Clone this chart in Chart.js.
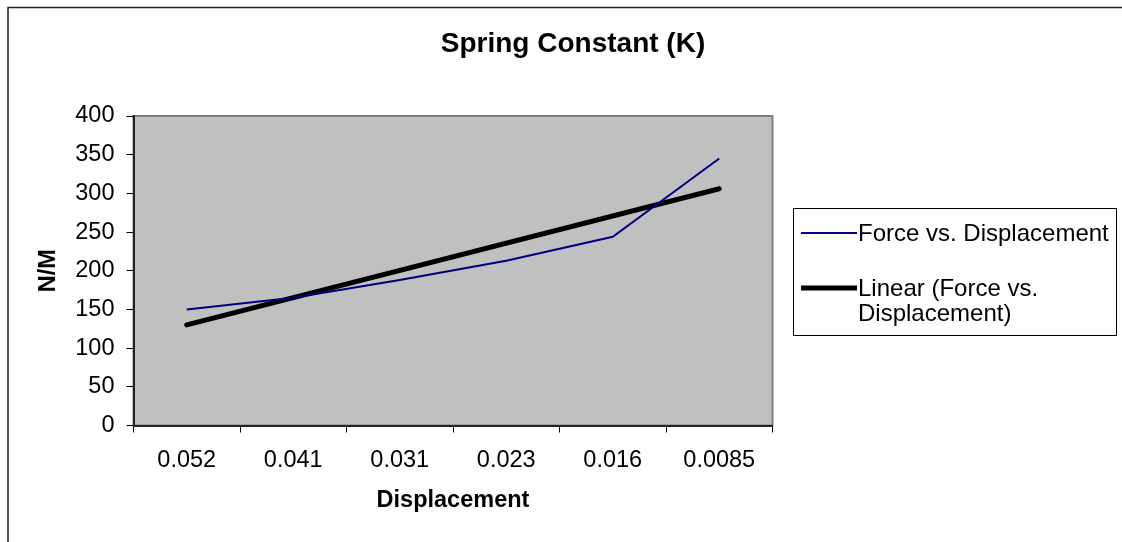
<!DOCTYPE html>
<html>
<head>
<meta charset="utf-8">
<title>Spring Constant (K)</title>
<script src="https://cdn.jsdelivr.net/npm/chart.js@4.4.1/dist/chart.umd.min.js"></script>
<style>
    html, body { margin: 0; padding: 0; background: #fff; }
    canvas { display: block; }
</style>
</head>
<body>
<canvas id="springChart" width="1122" height="542"></canvas>
<script>
// chart values
const displacementLabels = ['0.052', '0.041', '0.031', '0.023', '0.016', '0.0085'];
const forceValues = [150, 165, 188, 213, 244, 345];
// linear trendline, only the two ends are needed (spanGaps joins them)
const trendValues = [130, null, null, null, null, 306];
const yTickValues = [0, 50, 100, 150, 200, 250, 300, 350, 400];

const chartTitle = 'Spring Constant (K)';
const xAxisTitle = 'Displacement';
const yAxisTitle = 'N/M';
const legendLines = [
    ['Force vs. Displacement'],
    ['Linear (Force vs.', 'Displacement)']
];

const FONT = '"Liberation Sans", Arial, sans-serif';

// white page, outer frame and grey plot area
const backgroundPlugin = {
    id: 'excelBackground',
    beforeDraw(chart) {
        const ctx = chart.ctx;
        const area = chart.chartArea;
        ctx.save();
        ctx.fillStyle = '#fff';
        ctx.fillRect(0, 0, chart.width, chart.height);

        ctx.strokeStyle = '#222';
        ctx.lineWidth = 1.5;
        ctx.strokeRect(8, 7.5, chart.width + 20, chart.height + 20);

        ctx.fillStyle = '#c0c0c0';
        ctx.fillRect(area.left, area.top, area.right - area.left, area.bottom - area.top);
        ctx.strokeStyle = '#808080';
        ctx.lineWidth = 2;
        ctx.strokeRect(area.left, area.top, area.right - area.left, area.bottom - area.top);
        ctx.restore();
    }
};

// title, axis titles and the boxed legend on the right
const labelsPlugin = {
    id: 'excelLabels',
    afterDraw(chart) {
        const ctx = chart.ctx;
        const area = chart.chartArea;
        ctx.save();
        ctx.fillStyle = '#000';

        ctx.font = 'bold 28px ' + FONT;
        ctx.textAlign = 'center';
        ctx.textBaseline = 'alphabetic';
        ctx.fillText(chartTitle, 573, 52);

        ctx.font = 'bold 23.5px ' + FONT;
        ctx.textBaseline = 'middle';
        ctx.fillText(xAxisTitle, (area.left + area.right) / 2, 501);

        ctx.save();
        ctx.translate(49, (area.top + area.bottom) / 2);
        ctx.rotate(-Math.PI / 2);
        ctx.fillText(yAxisTitle, 0, 0);
        ctx.restore();

        // legend box
        ctx.strokeStyle = '#000';
        ctx.lineWidth = 1;
        ctx.strokeRect(793.5, 208.5, 323, 127);

        ctx.font = '24px ' + FONT;
        ctx.textAlign = 'left';
        const rowY = [233, 288];
        chart.data.datasets.forEach(function(ds, i) {
            const y = rowY[i];
            ctx.strokeStyle = ds.borderColor;
            ctx.lineWidth = ds.borderWidth;
            ctx.lineCap = 'butt';
            ctx.beginPath();
            ctx.moveTo(801, y);
            ctx.lineTo(857, y);
            ctx.stroke();
            legendLines[i].forEach(function(line, j) {
                ctx.fillText(line, 858, y + 1 + j * 25);
            });
        });
        ctx.restore();
    }
};

const ctx = document.getElementById('springChart').getContext('2d');
const springChart = new Chart(ctx, {
    type: 'line',
    data: {
        labels: displacementLabels,
        datasets: [
            {
                label: 'Force vs. Displacement',
                data: forceValues,
                borderColor: '#000080',
                borderWidth: 2,
                pointRadius: 0,
                tension: 0,
                fill: false
            },
            {
                label: 'Linear (Force vs. Displacement)',
                data: trendValues,
                borderColor: '#000',
                borderWidth: 5,
                borderCapStyle: 'round',
                pointRadius: 0,
                spanGaps: true,
                tension: 0,
                fill: false
            }
        ]
    },
    options: {
        responsive: false,
        animation: false,
        devicePixelRatio: 1,
        layout: {
            padding: { top: 116, right: 349.5, bottom: 0, left: 0 }
        },
        plugins: {
            legend: { display: false },
            title: { display: false },
            tooltip: { enabled: false }
        },
        scales: {
            x: {
                type: 'category',
                offset: true,
                afterFit: function(scale) { scale.height = 116.5; },
                grid: {
                    offset: true,
                    drawOnChartArea: false,
                    drawTicks: true,
                    tickLength: 7,
                    color: '#000'
                },
                border: { display: true, color: '#222', width: 2 },
                ticks: {
                    color: '#000',
                    font: { family: FONT, size: 23.5 },
                    padding: 14,
                    maxRotation: 0,
                    autoSkip: false
                }
            },
            y: {
                min: yTickValues[0],
                max: yTickValues[yTickValues.length - 1],
                afterFit: function(scale) { scale.width = 133.5; },
                afterBuildTicks: function(scale) {
                    scale.ticks = yTickValues.map(function(v) { return { value: v }; });
                },
                grid: {
                    drawOnChartArea: false,
                    drawTicks: true,
                    tickLength: 7,
                    color: '#000'
                },
                border: { display: true, color: '#222', width: 2 },
                ticks: {
                    color: '#000',
                    font: { family: FONT, size: 23.5 },
                    padding: 12
                }
            }
        }
    },
    plugins: [backgroundPlugin, labelsPlugin]
});
</script>
</body>
</html>
